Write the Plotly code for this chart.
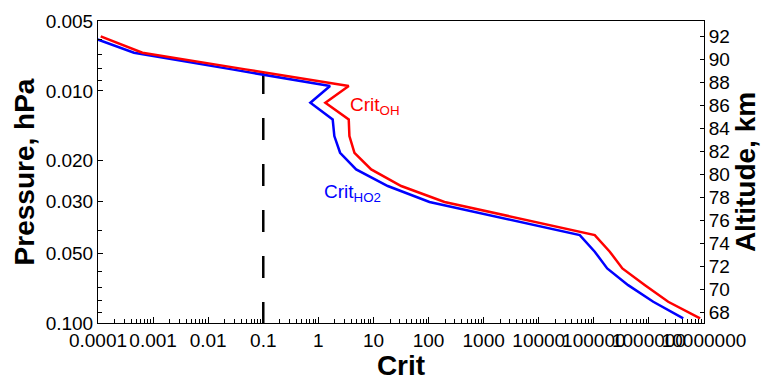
import plotly.graph_objects as go

# ---- data ----
pressure_hpa = [0.00582, 0.00685, 0.00808, 0.00953, 0.01125, 0.01327, 0.01566, 0.01848, 0.0218,
                0.0257, 0.0301, 0.0355, 0.0418, 0.0493, 0.0582, 0.0687, 0.0810, 0.0956]
crit_ho2 = [6.9e-5, 4.5e-4, 0.0271, 1.63, 0.716, 1.82, 1.95, 2.48, 4.85,
            18.2, 104, 2400, 55600, 1.04e5, 1.75e5, 4.2e5, 1.2e6, 4.2e6]
crit_oh = [1.12e-4, 6.4e-4, 0.0477, 3.56, 1.34, 3.56, 3.66, 4.52, 9.1,
           31.9, 195, 4500, 1.04e5, 1.95e5, 3.3e5, 8.5e5, 2.24e6, 8.5e6]
threshold_x = [0.1, 0.1]
threshold_p = [0.0083, 0.1]

x_tickvals = [1e-4, 1e-3, 1e-2, 1e-1, 1, 10, 100, 1e3, 1e4, 1e5, 1e6, 1e7]
x_ticktext = ["0.0001", "0.001", "0.01", "0.1", "1", "10", "100", "1000",
              "10000", "100000", "1000000", "10000000"]
y_tickvals = [0.005, 0.01, 0.02, 0.03, 0.05, 0.1]
y_ticktext = ["0.005", "0.010", "0.020", "0.030", "0.050", "0.100"]
alt_ticks = [68, 70, 72, 74, 76, 78, 80, 82, 84, 86, 88, 90, 92]

x_minor = [m * 10.0 ** e for e in range(-4, 7) for m in range(2, 10)]
y_minor = [0.006, 0.007, 0.008, 0.009, 0.04, 0.06, 0.07, 0.08, 0.09]

FONT = "Arial, Liberation Sans, sans-serif"
TICK = 19
TITLE = 28

fig = go.Figure()
fig.add_trace(go.Scatter(x=threshold_x, y=threshold_p, mode="lines",
                         line=dict(color="black", width=2.5, dash="22px,24px"),
                         showlegend=False))
fig.add_trace(go.Scatter(x=crit_ho2, y=pressure_hpa, mode="lines",
                         line=dict(color="#0000ff", width=2.5), showlegend=False))
fig.add_trace(go.Scatter(x=crit_oh, y=pressure_hpa, mode="lines",
                         line=dict(color="#ff0000", width=2.5), showlegend=False))
# dummy trace to activate the altitude axis
fig.add_trace(go.Scatter(x=[None], y=[None], yaxis="y2", showlegend=False))

# annotation x uses log10 coords for log axes
fig.add_annotation(x=0.545, y=-1.935, xref="x", yref="y", xanchor="left", yanchor="middle",
                   text="Crit<sub>OH</sub>", showarrow=False,
                   font=dict(family=FONT, size=19, color="#ff0000"))
fig.add_annotation(x=0.06, y=-1.558, xref="x", yref="y", xanchor="left", yanchor="middle",
                   text="Crit<sub>HO2</sub>", showarrow=False,
                   font=dict(family=FONT, size=19, color="#0000ff"))

fig.update_layout(
    width=761, height=381,
    margin=dict(l=98, r=57, t=21, b=58),
    paper_bgcolor="white", plot_bgcolor="white",
    font=dict(family=FONT, size=TICK, color="black"),
    xaxis=dict(type="log", range=[-4, 7], tickmode="array", tickvals=x_tickvals,
               ticktext=x_ticktext, ticks="inside", ticklen=6, tickwidth=1,
               tickcolor="black", showline=True, linecolor="black", linewidth=1,
               mirror=True, showgrid=False, zeroline=False, tickangle=0,
               automargin=False, tickfont=dict(size=TICK),
               minor=dict(tickmode="array", tickvals=x_minor, ticks="inside",
                          ticklen=4, tickcolor="black", showgrid=False),
               title=dict(text="<b>Crit</b>", font=dict(size=TITLE), standoff=2)),
    yaxis=dict(type="log", range=[-1, -2.30103], tickmode="array", tickvals=y_tickvals,
               ticktext=y_ticktext, ticks="inside", ticklen=5, tickwidth=1,
               tickcolor="black", showline=True, linecolor="black", linewidth=1,
               showgrid=False, zeroline=False, automargin=False, tickfont=dict(size=TICK),
               minor=dict(tickmode="array", tickvals=y_minor, ticks="inside",
                          ticklen=4, tickcolor="black", showgrid=False),
               title=dict(text="<b>Pressure, hPa</b>", font=dict(size=TITLE), standoff=2)),
    yaxis2=dict(overlaying="y", side="right", range=[67.11, 93.35], tickmode="array",
                tickvals=alt_ticks, ticks="inside", ticklen=4, tickcolor="black",
                showline=True, linecolor="black", linewidth=1, showgrid=False,
                zeroline=False, automargin=False, tickfont=dict(size=TICK),
                title=dict(text="<b>Altitude, km</b>", font=dict(size=TITLE), standoff=0)),
)

fig.write_html("out.html")
